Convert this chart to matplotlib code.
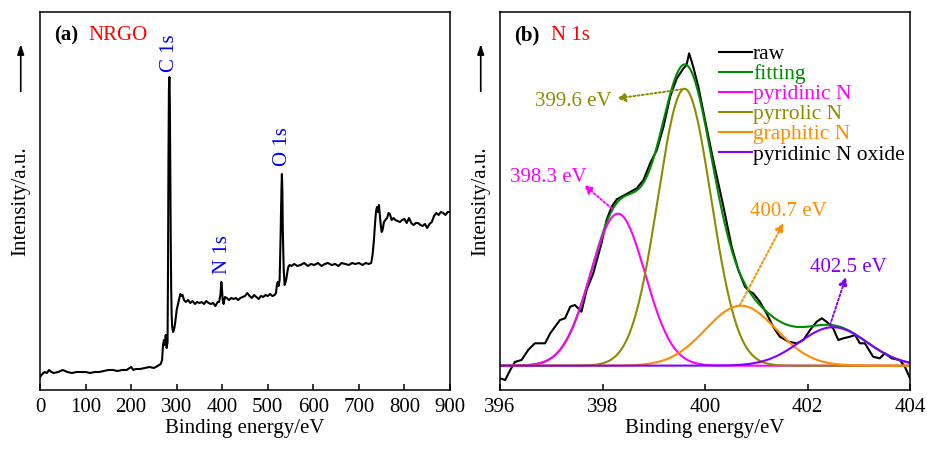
import numpy as np
import matplotlib
matplotlib.use("Agg")
import matplotlib.pyplot as plt
from matplotlib.lines import Line2D

plt.rcParams['font.family'] = ['Liberation Serif', 'DejaVu Serif']
plt.rcParams['mathtext.fontset'] = 'stix'

# ---------------- survey spectrum (a) ----------------
survey_energy = [
    0, 5, 10, 15, 20, 25, 30, 40, 50, 60, 70, 80, 90, 100, 110, 120, 130, 140,
    150, 160, 170, 180, 190, 200, 205, 210, 220, 230, 240, 250, 258, 265, 268,
    270, 272, 274, 276, 278, 280, 281, 282, 283, 284, 285, 286, 287, 288, 289,
    290, 292, 294, 296, 298, 300, 303, 306, 308, 310, 313, 316, 320, 325, 330,
    335, 340, 345, 350, 355, 360, 365, 370, 375, 380, 385, 390, 393, 396, 398,
    399, 401, 403, 406, 410, 415, 420, 425, 430, 435, 440, 445, 450, 455, 460,
    465, 470, 475, 480, 485, 490, 495, 500, 505, 510, 515, 518, 520, 522, 524,
    526, 528, 530, 531, 532, 533, 535, 537, 539, 541, 543, 545, 548, 552, 558,
    565, 572, 580, 588, 595, 602, 610, 618, 625, 632, 640, 648, 655, 662, 670,
    678, 685, 692, 700, 708, 715, 722, 727, 730, 733, 736, 738, 740, 742, 744,
    746, 748, 750, 752, 755, 758, 762, 765, 768, 772, 776, 780, 785, 790, 795,
    800, 805, 810, 815, 820, 825, 830, 835, 840, 845, 850, 855, 860, 865, 870,
    875, 880, 885, 890, 895, 900,
]
survey_counts = [
    13, 16, 18, 17, 20, 18, 17, 18, 20, 18, 17, 18, 18, 18, 17, 18, 18, 19,
    20, 20, 19, 20, 20, 23, 20, 21, 21, 22, 23, 22, 24, 26, 30,
    45, 50, 45, 55, 42, 48, 120, 230, 300, 313, 290, 220, 150, 100, 75,
    64, 58, 60, 65, 72, 80, 86, 92, 96, 94, 95, 90, 88, 90, 87,
    89, 86, 88, 87, 88, 86, 89, 87, 86, 87, 84, 88, 88, 95, 108,
    104, 90, 86, 93, 92, 90, 92, 91, 92, 90, 92, 93, 94, 97, 94,
    92, 95, 93, 91, 94, 93, 95, 94, 96, 94, 95, 97, 105, 108, 104,
    110, 150, 200, 216, 200, 160, 120, 105, 108, 112, 118, 123, 125, 124, 126,
    124, 125, 127, 124, 126, 125, 127, 124, 126, 127, 125, 126, 124, 127, 126,
    125, 127, 126, 127, 125, 127, 126, 127, 135, 150, 170, 180, 183, 178, 185,
    175, 165, 158, 160, 168, 170, 172, 177, 176, 170, 172, 170, 169, 168, 170,
    171, 167, 172, 167, 165, 167, 167, 165, 164, 166, 162, 166, 168, 174, 177,
    175, 178, 177, 175, 178, 178,
]

# element labels: text, energy position, label bottom
peak_names = ["C 1s", "N 1s", "O 1s"]
peak_pos = [285, 401, 533]
peak_label_base = [318, 116, 224]

# ---------------- N 1s high resolution (b) ----------------
n1s_energy = [
    396.0, 396.1, 396.2, 396.29, 396.42, 396.55, 396.68, 396.88, 396.98, 397.17,
    397.27, 397.37, 397.46, 397.59, 397.69, 397.82, 397.98, 398.08, 398.18,
    398.28, 398.47, 398.67, 398.80, 398.93, 399.06, 399.19, 399.32, 399.45,
    399.58, 399.64, 399.69, 399.77, 399.87, 400.0, 400.16, 400.36, 400.52,
    400.65, 400.78, 400.88, 400.94, 401.07, 401.2, 401.33, 401.46, 401.63,
    401.79, 401.92, 402.05, 402.18, 402.28, 402.37, 402.5, 402.6, 402.7,
    402.83, 402.93, 403.02, 403.12, 403.28, 403.41, 403.51, 403.64, 403.8,
    403.9, 404.0,
]
n1s_counts = [
    11.7, 10, 20, 28, 30, 40, 46.7, 46.7, 56.7, 70,
    71.7, 83.3, 85, 78.3, 100, 116.7, 146.7, 170, 183.3,
    190.7, 196, 201.7, 210, 226.7, 240, 263.3, 293.3, 311.7,
    321.7, 325, 336.7, 323.3, 303.3, 270, 230, 183.3, 143.3,
    120, 103.3, 98.3, 96.7, 88.3, 76.7, 63.3, 53.3, 48.3,
    46.7, 50, 60, 68.3, 71.7, 68.3, 61.7, 50, 51.7,
    53.3, 55, 46.7, 46.7, 33.3, 31.7, 36.7, 31.7, 30,
    23.3, 11.7,
]

# fitted Gaussian components: name, centre (eV), height, FWHM (eV), colour
comp_names = ["pyridinic N", "pyrrolic N", "graphitic N", "pyridinic N oxide"]
comp_center = [398.3, 399.6, 400.7, 402.5]
comp_height = [152.0, 277.0, 60.0, 38.5]
comp_fwhm = [1.25, 1.22, 1.62, 1.56]
comp_colors = ["#ff00ff", "#8c8c00", "#ff8c00", "#8000ff"]
fit_baseline = 24.3


def gaussian(x, centre, height, fwhm):
    sigma = fwhm / 2.3548
    return height * np.exp(-(x - centre) ** 2 / (2 * sigma ** 2))


# figure -------------------------------------------------------------
W, H = 927, 449
fig = plt.figure(figsize=(W / 100, H / 100), dpi=100)
ax_a = fig.add_axes([40 / W, 1 - 390 / H, 410 / W, 378 / H])
ax_b = fig.add_axes([500 / W, 1 - 390 / H, 410 / W, 378 / H])

tick_fs = 15
label_fs = 15

for ax in (ax_a, ax_b):
    for sp in ax.spines.values():
        sp.set_linewidth(1.1)
    ax.set_yticks([])
    ax.set_ylim(0, 378)
    ax.tick_params(axis='x', direction='in', length=4, width=1.1,
                   labelsize=tick_fs, pad=6)
    ax.set_xlabel("Binding energy/eV", fontsize=label_fs, labelpad=1)
    ax.text(-0.046, 0.5, "Intensity/a.u.", rotation=90, ha='center',
            va='center', fontsize=label_fs, transform=ax.transAxes)
    ax.annotate('', xy=(-0.047, 0.915), xytext=(-0.047, 0.79),
                xycoords='axes fraction', annotation_clip=False,
                arrowprops=dict(arrowstyle='-|>,head_length=0.6,head_width=0.2',
                                lw=1.2, color='black', shrinkA=0, shrinkB=0))

# (a) survey
ax_a.plot(survey_energy, survey_counts, color='black', lw=1.5)
ax_a.set_xlim(0, 900)
ax_a.set_xticks(np.arange(0, 901, 100))
for name, x, y in zip(peak_names, peak_pos, peak_label_base):
    ax_a.text(x, y, name, rotation=90, ha='center', va='bottom',
              color='#0000ff', fontsize=15)
ax_a.text(0.035, 0.937, "(a)", fontweight='bold', fontsize=15,
          transform=ax_a.transAxes, va='center')
ax_a.text(0.118, 0.937, "NRGO", color='#ff0000', fontsize=15,
          transform=ax_a.transAxes, va='center')

# (b) N 1s
xs = np.linspace(396, 404, 801)
components = [gaussian(xs, c, h, w)
              for c, h, w in zip(comp_center, comp_height, comp_fwhm)]
fit = fit_baseline + np.sum(components, axis=0)

ax_b.plot(n1s_energy, n1s_counts, color='black', lw=1.5)
ax_b.plot(xs, fit, color='#008c00', lw=1.5)
for comp, col in zip(components, comp_colors):
    ax_b.plot(xs, fit_baseline + comp, color=col, lw=1.5)
ax_b.set_xlim(396, 404)
ax_b.set_xticks([396, 398, 400, 402, 404])

# peak position call-outs
callouts = [
    ("399.6 eV", comp_colors[1], (399.55, 300.7), (398.28, 291.5), (397.43, 288)),
    ("398.3 eV", comp_colors[0], (398.18, 181.7), (397.64, 205.0), (396.95, 213)),
    ("400.7 eV", comp_colors[2], (400.68, 85.0), (401.53, 167.0), (401.63, 178)),
    ("402.5 eV", comp_colors[3], (402.44, 65.0), (402.75, 113.0), (402.80, 123)),
]
for txt, col, start, end, tpos in callouts:
    ax_b.annotate('', xy=end, xytext=start,
                  arrowprops=dict(arrowstyle='-|>,head_length=0.5,head_width=0.25',
                                  ls=(0, (1, 1.2)), lw=1.4, color=col,
                                  shrinkA=0, shrinkB=0))
    ax_b.text(tpos[0], tpos[1], txt, color=col, fontsize=15,
              ha='center', va='center')

ax_b.text(0.035, 0.937, "(b)", fontweight='bold', fontsize=15,
          transform=ax_b.transAxes, va='center')
ax_b.text(0.125, 0.937, "N 1s", color='#ff0000', fontsize=15,
          transform=ax_b.transAxes, va='center')

handles = [Line2D([], [], color='black', lw=1.5),
           Line2D([], [], color='#008c00', lw=1.5)] + \
          [Line2D([], [], color=c, lw=1.5) for c in comp_colors]
labels = ["raw", "fitting"] + comp_names
text_cols = ['black', '#008c00'] + comp_colors[:3] + ['black']
leg = ax_b.legend(handles, labels, loc='upper left',
                  bbox_to_anchor=(0.534, 0.915), frameon=False,
                  fontsize=15.5, handlelength=1.55, handletextpad=0.03,
                  labelspacing=0.0, borderaxespad=0, borderpad=0)
for t, c in zip(leg.get_texts(), text_cols):
    t.set_color(c)

fig.savefig("out.png", dpi=100)
